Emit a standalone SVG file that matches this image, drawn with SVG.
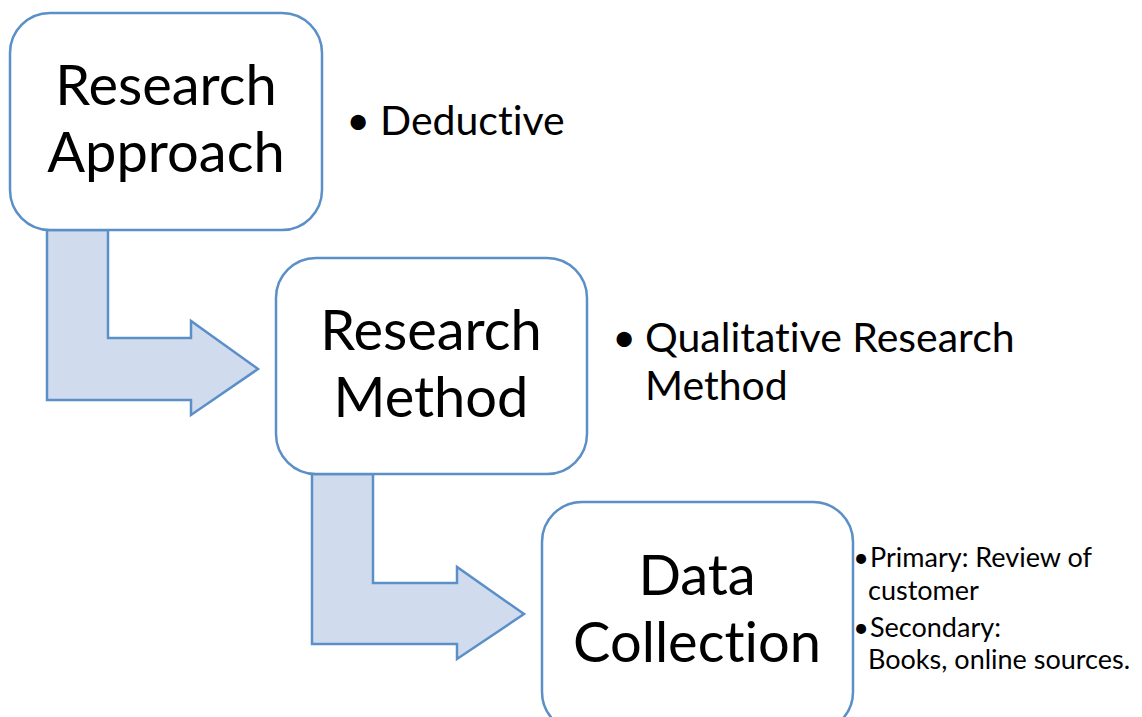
<svg xmlns="http://www.w3.org/2000/svg" width="1142" height="717" viewBox="0 0 1142 717">
  <style>
    text { font-family: Lato, "Open Sans", "Liberation Sans", sans-serif; fill: #000; font-variant-ligatures: none; font-feature-settings: "liga" 0; }
    .box { fill: #ffffff; stroke: #5b8fc7; stroke-width: 2.5; }
    .arrow { fill: #d0dcee; stroke: #5b8fc7; stroke-width: 2.5; stroke-linejoin: miter; }
    .title { font-size: 56px; text-anchor: middle; }
    .note { font-size: 41px; }
    .small { font-size: 27px; }
    .dot { text-anchor: end; }
  </style>
  <rect width="1142" height="717" fill="#ffffff"/>

  <!-- bent arrows between the stages -->
  <g id="connectors">
    <polygon class="arrow" points="47,230 108,230 108,338 191,338 191,321 258,369 191,415 191,400 47,400"/>
    <polygon class="arrow" points="312,474 373,474 373,583 457,583 457,567 524,614 457,659 457,644 312,644"/>
  </g>

  <g id="research-approach">
    <rect class="box" x="10" y="13" width="312" height="217" rx="40" ry="40"/>
    <text class="title" x="166" y="105">Research</text>
    <text class="title" x="166" y="172">Approach</text>
  </g>
  <g id="approach-note">
    <text class="note dot" x="370" y="135">•</text>
    <text class="note" x="380" y="135">Deductive</text>
  </g>

  <g id="research-method">
    <rect class="box" x="276" y="258" width="311" height="216" rx="40" ry="40"/>
    <text class="title" x="431" y="350">Research</text>
    <text class="title" x="431" y="417">Method</text>
  </g>
  <g id="method-note">
    <text class="note dot" x="636" y="352">•</text>
    <text class="note" x="645" y="352">Qualitative Research</text>
    <text class="note" x="645" y="400">Method</text>
  </g>

  <g id="data-collection">
    <rect class="box" x="542" y="502" width="311" height="230" rx="40" ry="40"/>
    <text class="title" x="697" y="595">Data</text>
    <text class="title" x="697" y="662">Collection</text>
  </g>
  <g id="collection-note">
    <text class="small dot" x="869" y="567">•</text>
    <text class="small" x="870" y="567">Primary: Review of</text>
    <text class="small" x="868" y="600">customer</text>
    <text class="small dot" x="869" y="637">•</text>
    <text class="small" x="870" y="637">Secondary:</text>
    <text class="small" x="868" y="669">Books, online sources.</text>
  </g>
</svg>
